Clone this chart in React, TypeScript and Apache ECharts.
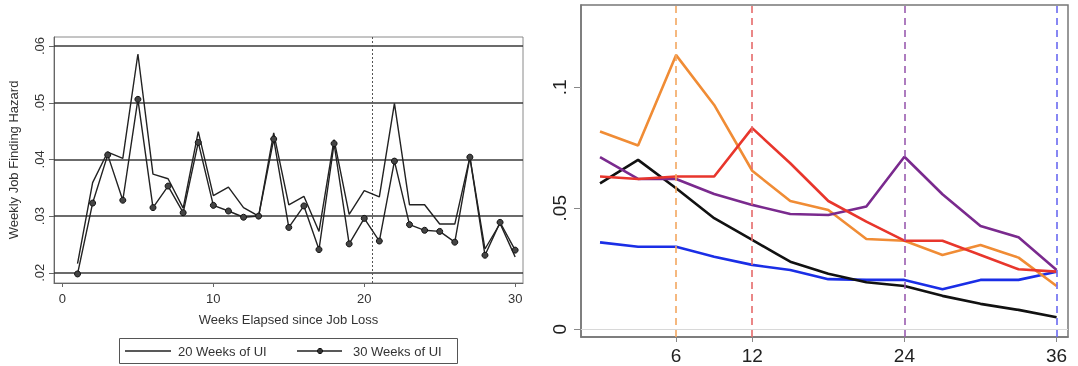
import React, { useEffect, useRef } from "react";
import * as echarts from "echarts";

// Left panel: weekly job finding hazard by week since job loss
const weeks = [1, 2, 3, 4, 5, 6, 7, 8, 9, 10, 11, 12, 13, 14, 15, 16, 17, 18, 19, 20, 21, 22, 23, 24, 25, 26, 27, 28, 29, 30];
const hazard20 = [0.0216, 0.0359, 0.0413, 0.0402, 0.0586, 0.0374, 0.0366, 0.0314, 0.0449, 0.0336, 0.0351, 0.0315, 0.03, 0.0447, 0.032, 0.0335, 0.0273, 0.0435, 0.0303, 0.0345, 0.0334, 0.0499, 0.032, 0.032, 0.0286, 0.0286, 0.0404, 0.0242, 0.0287, 0.0228];
const hazard30 = [0.0198, 0.0323, 0.0408, 0.0328, 0.0506, 0.0315, 0.0353, 0.0306, 0.043, 0.0319, 0.0309, 0.0298, 0.03, 0.0436, 0.028, 0.0318, 0.0241, 0.0428, 0.0251, 0.0296, 0.0256, 0.0397, 0.0285, 0.0275, 0.0273, 0.0254, 0.0404, 0.0231, 0.0289, 0.024];
const leftXTicks = [0, 10, 20, 30];
const leftYTicks = [0.02, 0.03, 0.04, 0.05, 0.06];
const exhaustionWeek = 20.5;
const legendLabels = ["20 Weeks of UI", "30 Weeks of UI"];

// Right panel: hazards by benefit duration
const months = [0, 3, 6, 9, 12, 15, 18, 21, 24, 27, 30, 33, 36];
const orangeSeries = [0.0817, 0.0759, 0.1133, 0.0927, 0.0655, 0.053, 0.0493, 0.0373, 0.0366, 0.0307, 0.0348, 0.0296, 0.0179];
const redSeries = [0.0631, 0.0621, 0.0631, 0.0631, 0.0831, 0.0686, 0.053, 0.0445, 0.0366, 0.0366, 0.0307, 0.0248, 0.0238];
const purpleSeries = [0.0711, 0.0621, 0.0621, 0.0559, 0.0514, 0.0476, 0.0472, 0.0507, 0.0713, 0.0558, 0.0427, 0.038, 0.0245];
const blackSeries = [0.0603, 0.07, 0.0583, 0.0459, 0.0369, 0.0279, 0.0229, 0.0194, 0.0179, 0.0138, 0.0105, 0.008, 0.005];
const blueSeries = [0.0359, 0.0341, 0.0341, 0.03, 0.0266, 0.0245, 0.0207, 0.0204, 0.0204, 0.0165, 0.0204, 0.0204, 0.0238];
const rightXTicks = [6, 12, 24, 36];
const rightYTicks = [0, 0.05, 0.1];
const cutoffs = [6, 12, 24, 36];

const COLORS = {
  orange: "#f08c35",
  red: "#e8362c",
  purple: "#7a2a8e",
  black: "#111111",
  blue: "#1a2ee6",
};
const cutoffColors = ["#f3a760", "#e56a6a", "#9a5cb0", "#6a6af0"];

const stataFmt = (v: number) => (v === 0 ? "0" : String(+v.toFixed(2)).replace(/^0/, ""));
const pair = (xs: number[], ys: number[]) => xs.map((x, i) => [x, ys[i]]);

const FONT = "Liberation Sans, Arial, Helvetica, sans-serif";

export default function App() {
  const ref = useRef<HTMLDivElement>(null);

  useEffect(() => {
    if (!ref.current) return;
    const chart = echarts.init(ref.current, undefined, { renderer: "svg" });

    const lineSeries = (name: string, ys: number[], color: string) => ({
      name,
      type: "line",
      xAxisIndex: 1,
      yAxisIndex: 1,
      data: pair(months, ys),
      symbol: "none",
      lineStyle: { color, width: 2.6 },
      itemStyle: { color },
      z: 3,
    });

    // Stata-style legend box under the left panel
    const legendY = 351;
    const legendText = (x: number, text: string) => ({
      type: "text",
      x,
      y: legendY,
      style: { text, fontSize: 13, fill: "#333", fontFamily: FONT, verticalAlign: "middle", align: "left" },
    });
    const legendGraphic = [
      { type: "rect", shape: { x: 119.5, y: 338.5, width: 338, height: 25 }, style: { fill: "none", stroke: "#555", lineWidth: 1 } },
      { type: "line", shape: { x1: 125, y1: legendY, x2: 171, y2: legendY }, style: { stroke: "#222", lineWidth: 1.4 } },
      legendText(178, legendLabels[0]),
      { type: "line", shape: { x1: 297, y1: legendY, x2: 342, y2: legendY }, style: { stroke: "#222", lineWidth: 1.4 } },
      { type: "circle", shape: { cx: 320, cy: legendY, r: 2.6 }, style: { fill: "#333", stroke: "#111", lineWidth: 1 } },
      legendText(353, legendLabels[1]),
    ];

    chart.setOption({
      animation: false,
      textStyle: { fontFamily: FONT },
      grid: [
        { left: 54, top: 37, width: 469, height: 246, show: true, borderColor: "#8a8a8a", borderWidth: 1 },
        { left: 581, top: 5, width: 487, height: 332, show: true, borderColor: "#777", borderWidth: 1.5 },
      ],
      graphic: legendGraphic,
      xAxis: [
        {
          gridIndex: 0,
          type: "value",
          min: -0.56,
          max: 30.52,
          name: "Weeks Elapsed since Job Loss",
          nameLocation: "middle",
          nameGap: 30,
          nameTextStyle: { fontSize: 13, color: "#333", fontFamily: FONT },
          axisLine: { show: true, onZero: false, lineStyle: { color: "#666", width: 1 } },
          axisTick: { show: true, length: 4, customValues: leftXTicks, lineStyle: { color: "#666" } },
          axisLabel: { customValues: leftXTicks, fontSize: 13, color: "#333", margin: 9, fontFamily: FONT },
          splitLine: { show: false },
        },
        {
          gridIndex: 1,
          type: "value",
          min: -1.5,
          max: 36.9,
          axisLine: { show: true, onZero: false, lineStyle: { color: "#777", width: 1.5 } },
          axisTick: { show: true, length: 5, customValues: rightXTicks, lineStyle: { color: "#888" } },
          axisLabel: { customValues: rightXTicks, fontSize: 19, color: "#222", margin: 9, fontFamily: FONT },
          splitLine: { show: false },
        },
      ],
      yAxis: [
        {
          gridIndex: 0,
          type: "value",
          min: 0.0182,
          max: 0.0616,
          name: "Weekly Job Finding Hazard",
          nameLocation: "middle",
          nameGap: 34,
          nameRotate: 90,
          nameTextStyle: { fontSize: 13, color: "#333", fontFamily: FONT },
          axisLine: { show: true, onZero: false, lineStyle: { color: "#666", width: 1 } },
          axisTick: { show: true, length: 5, customValues: leftYTicks, lineStyle: { color: "#666" } },
          axisLabel: { customValues: leftYTicks, rotate: 90, fontSize: 13, color: "#333", margin: 8, formatter: stataFmt, fontFamily: FONT },
          splitLine: { show: false },
        },
        {
          gridIndex: 1,
          type: "value",
          min: -0.0032,
          max: 0.134,
          axisLine: { show: true, onZero: false, lineStyle: { color: "#777", width: 1.5 } },
          axisTick: { show: true, length: 7, customValues: rightYTicks, lineStyle: { color: "#888" } },
          axisLabel: { customValues: rightYTicks, rotate: 90, fontSize: 19, color: "#222", margin: 12, formatter: stataFmt, fontFamily: FONT },
          splitLine: { show: false },
        },
      ],
      series: [
        {
          name: legendLabels[0],
          type: "line",
          xAxisIndex: 0,
          yAxisIndex: 0,
          data: pair(weeks, hazard20),
          symbol: "none",
          lineStyle: { color: "#222", width: 1.4 },
          itemStyle: { color: "#222" },
          z: 3,
          markLine: {
            silent: true,
            symbol: "none",
            label: { show: false },
            z: 1,
            data: [
              ...leftYTicks.map((v) => ({ yAxis: v, lineStyle: { color: "#3a3a3a", width: 1.6, type: "solid" } })),
              { xAxis: exhaustionWeek, lineStyle: { color: "#555", width: 1, type: [2, 2] } },
            ],
          },
        },
        {
          name: legendLabels[1],
          type: "line",
          xAxisIndex: 0,
          yAxisIndex: 0,
          data: pair(weeks, hazard30),
          symbol: "circle",
          symbolSize: 6,
          showAllSymbol: true,
          lineStyle: { color: "#222", width: 1.4 },
          itemStyle: { color: "#444", borderColor: "#111", borderWidth: 1 },
          z: 4,
        },
        {
          ...lineSeries("reference lines", [], "#ccc"),
          data: [],
          markLine: {
            silent: true,
            symbol: "none",
            label: { show: false },
            data: [
              { yAxis: 0, lineStyle: { color: "#d8d8d8", width: 1, type: "solid" } },
              ...cutoffs.map((c, i) => ({ xAxis: c, lineStyle: { color: cutoffColors[i], width: 1.6, type: [7, 5] } })),
            ],
          },
        },
        lineSeries("blue", blueSeries, COLORS.blue),
        lineSeries("black", blackSeries, COLORS.black),
        lineSeries("orange", orangeSeries, COLORS.orange),
        lineSeries("purple", purpleSeries, COLORS.purple),
        lineSeries("red", redSeries, COLORS.red),
      ],
    });

    return () => chart.dispose();
  }, []);

  return <div ref={ref} style={{ position: "fixed", left: 0, top: 0, width: 1078, height: 366 }} />;
}
